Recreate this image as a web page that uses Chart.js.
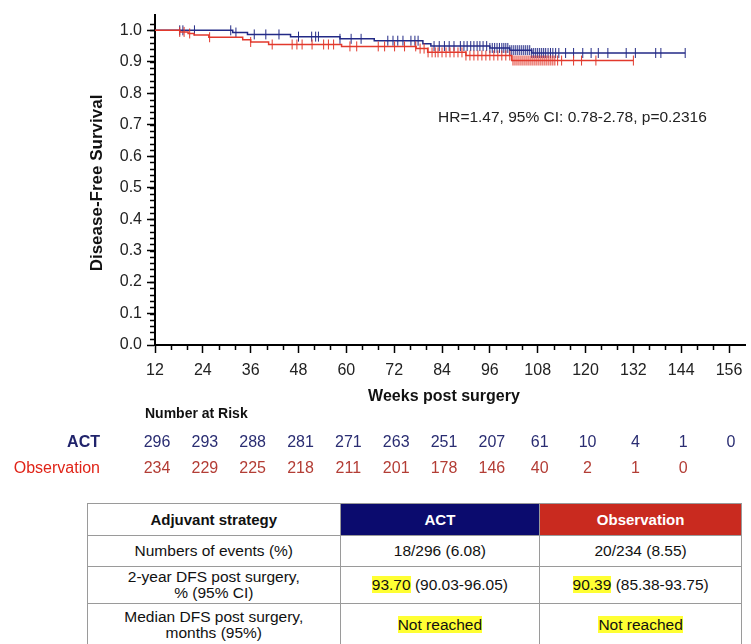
<!DOCTYPE html>
<html>
<head>
<meta charset="utf-8">
<script src="https://cdn.jsdelivr.net/npm/chart.js@4.4.1/dist/chart.umd.min.js"></script>
<style>
  body { margin: 0; background: #fff; font-family: "Liberation Sans", Arial, sans-serif; }
  #wrap { position: relative; width: 751px; height: 644px; overflow: hidden; }
  #km { position: absolute; left: 0; top: 0; }
  table { position: absolute; left: 87px; top: 503px; border-collapse: collapse; width: 655px; font-size: 15.5px; color: #111; }
  td { border: 1px solid #9a9a9a; text-align: center; padding: 0; line-height: 16px; }
  .h td { height: 31px; font-weight: bold; font-size: 15px; }
  .act { background: #0b0b6e; color: #fff; }
  .obs { background: #c92a1f; color: #fff; }
  .hl { background: #ffff33; }
</style>
</head>
<body>
<div id="wrap">
  <canvas id="km" width="751" height="495"></canvas>
  <table>
    <colgroup><col style="width:253px"><col style="width:200px"><col style="width:202px"></colgroup>
    <tr class="h"><td>Adjuvant strategy</td><td class="act">ACT</td><td class="obs">Observation</td></tr>
    <tr style="height:31px"><td>Numbers of events (%)</td><td>18/296 (6.08)</td><td>20/234 (8.55)</td></tr>
    <tr style="height:37px"><td>2-year DFS post surgery,<br>% (95% CI)</td><td><span class="hl">93.70</span> (90.03-96.05)</td><td><span class="hl">90.39</span> (85.38-93.75)</td></tr>
    <tr style="height:42px"><td>Median DFS post surgery,<br>months (95%)</td><td><span class="hl">Not reached</span></td><td><span class="hl">Not reached</span></td></tr>
  </table>
</div>
<script>
// Kaplan-Meier steps (weeks, survival after the drop)
const actTimes = [12, 31.5, 35.2, 46, 58.4, 67, 79.2, 81.2, 96, 101, 106.5, 145];
const actSurv  = [1.0, 0.993, 0.987, 0.980, 0.973, 0.967, 0.957, 0.950, 0.944, 0.937, 0.928, 0.928];
const obsTimes = [12, 18.2, 20.3, 21.8, 25.5, 34, 36, 40.5, 58.8, 77.5, 80.4, 90, 101.5, 132];
const obsSurv  = [1.0, 0.995, 0.990, 0.985, 0.978, 0.970, 0.963, 0.955, 0.949, 0.942, 0.930, 0.920, 0.904, 0.904];

// censored observations (weeks)
const actCensor = [18.2, 19.0, 21.9, 31.0, 32.3, 36.9, 39.8, 43.1, 48.0, 51.3, 52.3, 53.0, 58.4, 61.2, 63.7,
  70.4, 71.7, 72.9, 74.2, 76.2, 77.2, 78.0, 82.0, 83.3, 84.6, 85.8, 87.0, 88.6, 89.5, 90.3, 91.2, 92.0,
  92.8, 93.5, 94.3, 95.2, 96.0, 96.6, 97.2, 97.8, 98.4, 99.0, 99.5, 100.0, 100.5, 101.0, 101.5, 102.0,
  102.5, 103.0, 103.5, 104.0, 104.5, 105.0, 105.5, 106.0, 106.5, 107.0, 107.5, 108.0, 108.5, 109.0,
  109.5, 110.0, 110.6, 111.2, 111.8, 112.5, 113.3, 115.0, 117.0, 119.3, 121.4, 123.2, 125.6, 130.2,
  132.5, 137.6, 138.9, 145.0];
const obsCensor = [18.2, 19.3, 20.7, 25.7, 36.0, 41.4, 46.4, 47.6, 48.9, 51.4, 54.3, 55.5, 56.8, 60.9,
  62.6, 68.0, 69.6, 72.1, 74.6, 77.4, 78.5, 79.5, 80.5, 81.5, 82.3, 83.0, 84.0, 85.0, 86.0, 87.0, 88.0,
  89.0, 90.0, 91.0, 92.0, 93.0, 94.0, 95.0, 96.0, 97.0, 98.0, 99.0, 100.0, 101.0, 101.8, 102.3, 102.8,
  103.3, 103.8, 104.3, 104.8, 105.3, 105.8, 106.3, 106.8, 107.3, 107.8, 108.3, 108.8, 109.3, 109.8,
  110.3, 110.8, 111.3, 111.8, 112.3, 113.0, 114.0, 117.0, 119.0, 122.6, 132.0];

const xTicks = [12, 24, 36, 48, 60, 72, 84, 96, 108, 120, 132, 144, 156];
const yTicks = [0, 0.1, 0.2, 0.3, 0.4, 0.5, 0.6, 0.7, 0.8, 0.9, 1.0];

const riskWeeks = [12, 24, 36, 48, 60, 72, 84, 96, 108, 120, 132, 144, 156];
const actRisk = [296, 293, 288, 281, 271, 263, 251, 207, 61, 10, 4, 1, 0];
const obsRisk = [234, 229, 225, 218, 211, 201, 178, 146, 40, 2, 1, 0];

const BLUE = "#232a86";
const RED = "#e2392c";
const FONT = "'Liberation Sans', Arial, sans-serif";

function survAt(times, surv, t) {
  let s = surv[0];
  for (let i = 0; i < times.length; i++) if (times[i] <= t) s = surv[i];
  return s;
}

const pts = (xs, ys) => xs.map((x, i) => ({ x, y: ys[i] }));
const censorPts = (c, times, surv) => c.map(t => ({ x: t, y: survAt(times, surv, t) }));

const decor = {
  id: "decor",
  afterDraw(chart) {
    const { ctx, chartArea: a, scales: { x, y } } = chart;
    ctx.save();
    ctx.strokeStyle = "#000";
    ctx.lineWidth = 1.5;
    // minor ticks
    ctx.beginPath();
    for (let v = 0.02; v < 1.04; v += 0.02) {
      const py = Math.round(y.getPixelForValue(v)) + 0.5;
      ctx.moveTo(a.left - 5, py); ctx.lineTo(a.left, py);
    }
    for (let w = 16; w < 158; w += 4) {
      if ((w - 12) % 12 === 0) continue;
      const px = Math.round(x.getPixelForValue(w)) + 0.5;
      ctx.moveTo(px, a.bottom); ctx.lineTo(px, a.bottom + 5);
    }
    ctx.stroke();

    ctx.fillStyle = "#111";
    ctx.font = "bold 16px " + FONT;
    ctx.textAlign = "center";
    ctx.textBaseline = "middle";
    ctx.fillText("Weeks post surgery", 444, 397);
    ctx.save();
    ctx.translate(97, 183);
    ctx.rotate(-Math.PI / 2);
    ctx.font = "bold 17px " + FONT;
    ctx.fillText("Disease-Free Survival", 0, 0);
    ctx.restore();

    ctx.font = "15.5px " + FONT;
    ctx.fillStyle = "#222";
    ctx.textAlign = "left";
    ctx.fillText("HR=1.47, 95% CI: 0.78-2.78, p=0.2316", 438, 118);

    ctx.font = "bold 14px " + FONT;
    ctx.fillStyle = "#111";
    ctx.fillText("Number at Risk", 145, 414);

    ctx.textAlign = "right";
    ctx.font = "bold 16px " + FONT;
    ctx.fillStyle = "#20236b";
    ctx.fillText("ACT", 100, 443);
    ctx.font = "16px " + FONT;
    ctx.fillStyle = "#e02418";
    ctx.fillText("Observation", 100, 469);

    ctx.textAlign = "center";
    ctx.fillStyle = "#2a2d72";
    actRisk.forEach((n, i) => ctx.fillText(String(n), x.getPixelForValue(riskWeeks[i]) + 2, 443));
    ctx.fillStyle = "#b33d35";
    obsRisk.forEach((n, i) => ctx.fillText(String(n), x.getPixelForValue(riskWeeks[i]) + 2, 469));
    ctx.restore();
  }
};

new Chart(document.getElementById("km"), {
  type: "scatter",
  data: {
    datasets: [
      { data: pts(obsTimes, obsSurv), showLine: true, stepped: true, borderColor: RED, borderWidth: 1.5, pointRadius: 0 },
      { data: censorPts(obsCensor, obsTimes, obsSurv), showLine: false, pointStyle: "line", rotation: 90,
        pointRadius: 5, borderColor: RED, borderWidth: 1 },
      { data: pts(actTimes, actSurv), showLine: true, stepped: true, borderColor: BLUE, borderWidth: 1.5, pointRadius: 0 },
      { data: censorPts(actCensor, actTimes, actSurv), showLine: false, pointStyle: "line", rotation: 90,
        pointRadius: 5, borderColor: BLUE, borderWidth: 1 }
    ]
  },
  options: {
    responsive: false,
    animation: false,
    events: [],
    layout: { padding: { top: 4, right: 0, left: 0, bottom: 0 } },
    plugins: { legend: { display: false }, tooltip: { enabled: false } },
    scales: {
      x: {
        type: "linear", min: 12, max: 160,
        afterBuildTicks: s => { s.ticks = xTicks.map(v => ({ value: v })); },
        afterFit: s => { s.height = 150; },
        grid: { drawOnChartArea: false, tickLength: 8, tickColor: "#000", tickWidth: 1.5 },
        border: { color: "#000", width: 2 },
        ticks: { color: "#222", font: { family: FONT, size: 16 }, padding: 8, maxRotation: 0 }
      },
      y: {
        min: 0, max: 1.05,
        afterBuildTicks: s => { s.ticks = yTicks.map(v => ({ value: v })); },
        afterFit: s => { s.width = 155; },
        grid: { drawOnChartArea: false, tickLength: 8, tickColor: "#000", tickWidth: 1.5 },
        border: { color: "#000", width: 2 },
        ticks: { color: "#222", font: { family: FONT, size: 16 }, padding: 5, callback: v => v.toFixed(1) }
      }
    }
  },
  plugins: [decor]
});
</script>
</body>
</html>
